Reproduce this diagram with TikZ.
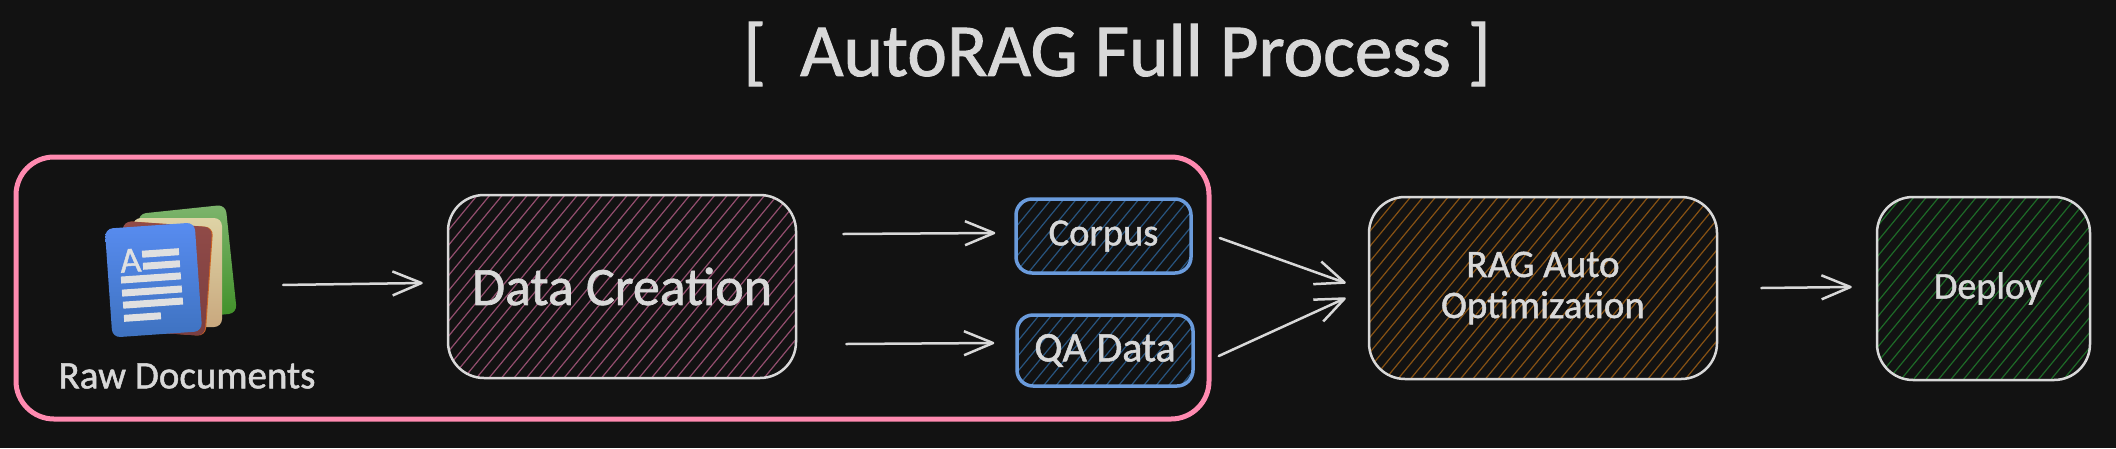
\documentclass[tikz,border=0pt]{standalone}
\usepackage{fontspec}
\setmainfont[FakeBold=1.2]{Carlito}
\usetikzlibrary{arrows.meta}
\definecolor{bgc}{HTML}{121212}
\definecolor{inkc}{HTML}{D8D8D8}
\definecolor{pinkc}{HTML}{FF8AB0}
\definecolor{bluec}{HTML}{6A9BDC}
\definecolor{hpink}{HTML}{934E6E}
\definecolor{horange}{HTML}{875214}
\definecolor{hgreen}{HTML}{1E6A28}
\definecolor{hblue}{HTML}{28547F}
\definecolor{gtop}{HTML}{7DB46C}
\definecolor{gbot}{HTML}{3E8F26}
\definecolor{btop}{HTML}{DED3A5}
\definecolor{bbot}{HTML}{C9A87E}
\definecolor{rtop}{HTML}{914B48}
\definecolor{rbot}{HTML}{7A3E40}
\definecolor{ltop}{HTML}{588CF0}
\definecolor{lbot}{HTML}{3E72C0}
\definecolor{orangec}{HTML}{CD6423}
\definecolor{barc}{HTML}{E0E0E0}
\newcommand{\fsz}[1]{\fontsize{#1}{41}\selectfont}
\tikzset{
  hatched/.style={path picture={
    \foreach \i in {-520,-507.5,...,520}
      \draw[#1,line width=1.2pt] (path picture bounding box.center) ++(\i-165,200) -- ++(330,-400);
  }},
  bigbox/.style={draw=inkc,line width=2.5pt,rounded corners=36pt,inner sep=0pt,text=inkc,align=center},
  smallbox/.style={draw=bluec,line width=3.5pt,rounded corners=16pt,inner sep=0pt,text=inkc,align=center,hatched=hblue},
  arr/.style={draw=inkc,line width=2.5pt,line cap=round,-{Straight Barb[length=29pt,width=24pt,line join=round]}},
  sheet/.style={rounded corners=8pt,inner sep=0pt,minimum width=#1,minimum height=109pt},
  bar/.style={fill=barc},
}
\begin{document}
\begin{tikzpicture}[x=1pt,y=-1pt]
\useasboundingbox[fill=bgc] (0,0) rectangle (2116,448);
\node[text=inkc,font=\fsz{75}] (title) at (1117,54) {[\ \ AutoRAG Full Process ]};
\node[draw=pinkc,line width=5pt,rounded corners=38pt,minimum width=1193pt,minimum height=262pt,inner sep=0pt] (group) at (612.5,288) {};
% icon
\node[sheet=88pt,rotate=6,top color=gtop,bottom color=gbot] (sgreen) at (187.5,263.5) {};
\node[sheet=89pt,top color=btop,bottom color=bbot] (sbeige) at (177.5,272.5) {};
\node[sheet=89pt,rotate=-4,fill=orangec] (sorange) at (165,278.5) {};
\node[sheet=89pt,rotate=-4,top color=rtop,bottom color=rbot] (sred) at (164,278.5) {};
\node[sheet=90pt,rotate=4,top color=ltop,bottom color=lbot] (rawicon) at (153.5,280) {};
\begin{scope}[shift={(153.5,280)},rotate=4]
  \fill[bar] (-9.6,-30) rectangle (27.4,-23);
  \fill[bar] (-9.5,-17.9) rectangle (27.5,-10.9);
  \fill[bar] (-32.4,-5.7) rectangle (27.6,1.3);
  \fill[bar] (-32.3,7.4) rectangle (27.7,14.4);
  \fill[bar] (-32.1,19.5) rectangle (27.9,26.5);
  \fill[bar] (-32.1,32.7) rectangle (4.9,39.7);
  \node[rotate=4,inner sep=0pt,text=barc,font=\fsz{36}] (glyphA) at (-21.6,-21) {A};
\end{scope}
\node[text=inkc,font=\fsz{39},inner sep=0pt] (rawlabel) at (187,376) {Raw Documents};
% boxes
\node[bigbox,hatched=hpink,minimum width=348pt,minimum height=183pt,font=\fsz{54}] (data) at (622,286.5) {Data Creation};
\node[smallbox,minimum width=175pt,minimum height=74pt,font=\fsz{38.5}] (corpus) at (1103.5,236) {Corpus};
\node[smallbox,minimum width=176pt,minimum height=71pt,font=\fsz{42}] (qa) at (1105,350.5) {QA Data};
\node[bigbox,hatched=horange,minimum width=348pt,minimum height=182pt,font=\fsz{39}] (rag) at (1543,288) {RAG Auto\\Optimization};
\node[bigbox,hatched=hgreen,minimum width=213pt,minimum height=183pt,font=\fsz{38}] (deploy) at (1983.5,288.5) {\hspace*{9pt}Deploy};
% connectors
\draw[arr] ([shift={(84.6,8.1)}]rawicon.east) -- ([shift={(-24,-3.5)}]data.west);
\draw[arr] ([shift={(46,-52.5)}]data.east) -- ([shift={(-19,-3)}]corpus.west);
\draw[arr] ([shift={(49,57.5)}]data.east) -- ([shift={(-21,-7.5)}]qa.west);
\draw[arr] ([shift={(27,2)}]corpus.east) -- ([shift={(-22,-5)}]rag.west);
\draw[arr] ([shift={(24,5.5)}]qa.east) -- ([shift={(-22,10)}]rag.west);
\draw[arr] ([shift={(43,0)}]rag.east) -- ([shift={(-24,-1.5)}]deploy.west);
\end{tikzpicture}
\end{document}
